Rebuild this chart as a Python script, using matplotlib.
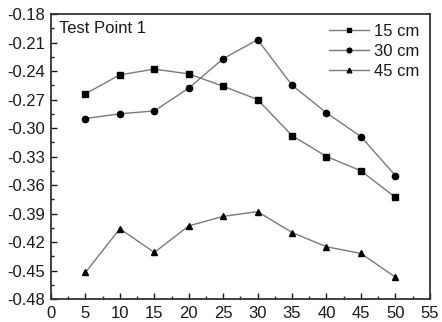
import matplotlib
matplotlib.use("Agg")
import matplotlib.pyplot as plt
from matplotlib.ticker import MultipleLocator

plt.rcParams["font.family"] = ["Liberation Sans", "DejaVu Sans"]

depth_x = [5, 10, 15, 20, 25, 30, 35, 40, 45, 50]
cm15 = [-0.264, -0.244, -0.238, -0.243, -0.256, -0.270, -0.308, -0.330, -0.345, -0.373]
cm30 = [-0.290, -0.285, -0.282, -0.258, -0.227, -0.207, -0.255, -0.284, -0.309, -0.350]
cm45 = [-0.452, -0.406, -0.431, -0.403, -0.393, -0.388, -0.410, -0.425, -0.432, -0.457]
labels = ["15 cm", "30 cm", "45 cm"]
markers = ["s", "o", "^"]

LINE = "#7a7a7a"
TEXT = "#1a1a1a"
FS = 12

fig = plt.figure(figsize=(4.42, 3.22), dpi=100)
ax = fig.add_axes([0.1154, 0.0714, 0.857, 0.885])

for ys, lab, mk in zip([cm15, cm30, cm45], labels, markers):
    ax.plot(depth_x, ys, color=LINE, linewidth=1.0, marker=mk, markersize=4.5,
            markerfacecolor="black", markeredgecolor="black", label=lab)

ax.set_xlim(0, 55)
ax.set_ylim(-0.48, -0.18)
ax.xaxis.set_major_locator(MultipleLocator(5))
ax.xaxis.set_minor_locator(MultipleLocator(2.5))
ax.yaxis.set_major_locator(MultipleLocator(0.03))
ax.yaxis.set_minor_locator(MultipleLocator(0.015))
ax.yaxis.set_major_formatter(matplotlib.ticker.FormatStrFormatter("%.2f"))
ax.tick_params(which="both", direction="in", top=False, right=False, colors=TEXT,
               labelsize=FS)
ax.tick_params(axis="x", which="major", pad=5)
ax.tick_params(axis="y", which="major", pad=4)
ax.tick_params(which="major", length=4, width=1)
ax.tick_params(which="minor", length=2.5, width=1)
for spine in ax.spines.values():
    spine.set_color("#333333")
    spine.set_linewidth(1.3)

ax.text(0.02, 0.975, "Test Point 1", transform=ax.transAxes, ha="left", va="top",
        fontsize=FS, color=TEXT)

leg = ax.legend(loc="upper right", frameon=False, fontsize=FS, handlelength=2.4,
                handletextpad=0.35, labelspacing=0.3, borderaxespad=0.2,
                markerscale=0.75)
for t in leg.get_texts():
    t.set_color(TEXT)

fig.savefig("out.png", dpi=100, facecolor="white")
